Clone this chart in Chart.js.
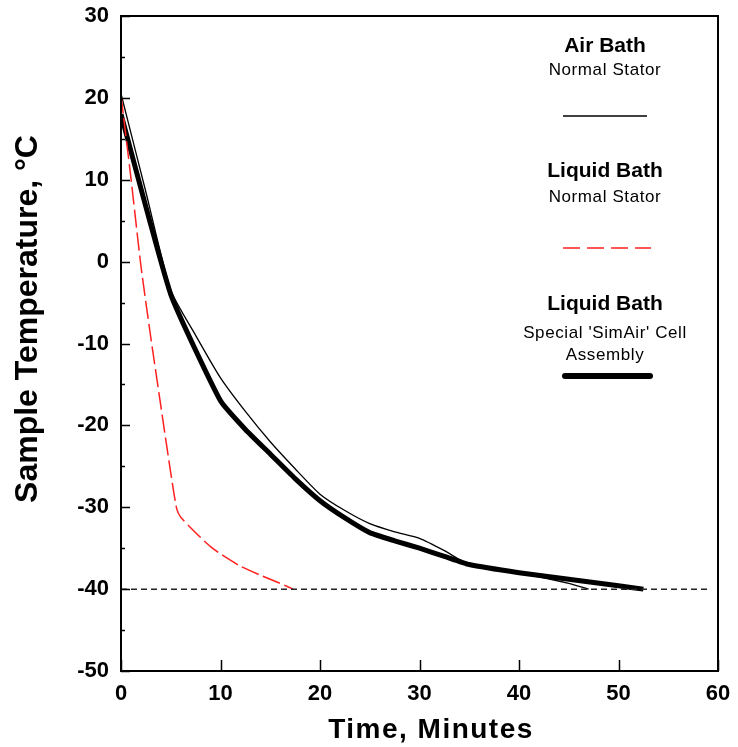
<!DOCTYPE html>
<html lang="en">
<head>
  <meta charset="UTF-8">
  <title>Sample Temperature</title>
  <script src="https://cdn.jsdelivr.net/npm/chart.js@4.4.1/dist/chart.umd.min.js"></script>
  <style>
    html, body { margin: 0; padding: 0; background: #fff; }
    #wrap { width: 738px; height: 747px; }
  </style>
</head>
<body>
<div id="wrap"><canvas id="chart" width="738" height="747"></canvas></div>

<script>
// air bath, normal stator (thin black)
const airTime = [0, 2.5, 5, 7.5, 10, 12.5, 15, 17.5, 20, 22.5, 25, 27.5, 30, 32.5, 35, 40, 45, 47];
const airTemp = [20.5, 8.5, -3.5, -9, -14.2, -18.3, -22, -25.3, -28.4, -30.4, -32, -33, -33.8, -35.3, -37, -38, -39.3, -40];

// liquid bath, normal stator (red dashed)
const liquidTime = [0, 1, 2, 3, 4, 5, 5.6, 6, 7, 8, 9, 10, 12, 14, 16, 17.3];
const liquidTemp = [20.3, 10.2, -0.5, -9.3, -17.6, -25.8, -30.2, -31.2, -32.5, -33.7, -34.8, -35.7, -37.2, -38.3, -39.3, -40];

// liquid bath, SimAir cell (thick black)
const simAirTime = [0, 5, 10, 12.5, 15, 17.5, 20, 22.5, 25, 27.5, 30, 32.5, 35, 40, 45, 50, 52.5];
const simAirTemp = [18, -4, -17, -20.5, -23.5, -26.5, -29.2, -31.3, -33.1, -34.1, -35, -36, -37, -38, -38.8, -39.6, -40];

// target line at -40
const targetTime = [0, 59];
const targetTemp = [-40, -40];

const xTicks = [0, 10, 20, 30, 40, 50, 60];
const yTicks = [30, 20, 10, 0, -10, -20, -30, -40, -50];

const pts = (xs, ys) => xs.map((x, i) => ({ x: x, y: ys[i] }));

const FONT = '"Liberation Sans", Arial, sans-serif';

const decorations = {
  id: 'decorations',
  afterDraw(chart) {
    const ctx = chart.ctx;
    const a = chart.chartArea;
    const xs = chart.scales.x, ys = chart.scales.y;
    ctx.save();
    ctx.strokeStyle = '#000';

    // frame
    ctx.lineWidth = 2;
    ctx.strokeRect(a.left, a.top, a.right - a.left, a.bottom - a.top);

    // inward tick marks
    ctx.lineWidth = 1.5;
    ctx.beginPath();
    for (let v = -50; v <= 30; v += 5) {
      const py = Math.round(ys.getPixelForValue(v)) + 0.5;
      const len = v % 10 === 0 ? 9 : 4;
      ctx.moveTo(a.left, py);
      ctx.lineTo(a.left + len, py);
    }
    xTicks.forEach(v => {
      const px = Math.round(xs.getPixelForValue(v)) + 0.5;
      ctx.moveTo(px, a.bottom);
      ctx.lineTo(px, a.bottom - 11);
    });
    ctx.stroke();

    // axis titles
    ctx.fillStyle = '#000';
    ctx.textAlign = 'center';
    ctx.textBaseline = 'alphabetic';
    ctx.font = 'bold 28px ' + FONT;
    ctx.letterSpacing = '1.5px';
    ctx.fillText('Time, Minutes', 431, 738);
    ctx.letterSpacing = '0px';

    ctx.save();
    ctx.translate(37, 319);
    ctx.rotate(-Math.PI / 2);
    ctx.font = 'bold 32px ' + FONT;
    ctx.fillText('Sample Temperature, \u00B0C', 0, 0);
    ctx.restore();

    // legend block
    const cx = 605;
    const title = (t, y) => {
      ctx.letterSpacing = '0px';
      ctx.font = 'bold 21px ' + FONT;
      ctx.fillText(t, cx, y);
    };
    const sub = (t, y) => {
      ctx.letterSpacing = '0.6px';
      ctx.font = '17px ' + FONT;
      ctx.fillText(t, cx, y);
    };

    title('Air Bath', 52);
    sub('Normal Stator', 75);
    ctx.setLineDash([]);
    ctx.lineWidth = 1.5;
    ctx.beginPath(); ctx.moveTo(563, 116); ctx.lineTo(647, 116); ctx.stroke();

    title('Liquid Bath', 177);
    sub('Normal Stator', 202);
    ctx.strokeStyle = '#ff2020';
    ctx.setLineDash([17, 7]);
    ctx.beginPath(); ctx.moveTo(563, 248); ctx.lineTo(651, 248); ctx.stroke();

    ctx.strokeStyle = '#000';
    ctx.setLineDash([]);
    title('Liquid Bath', 310);
    sub("Special 'SimAir' Cell", 338);
    sub('Assembly', 360);
    ctx.lineWidth = 6;
    ctx.lineCap = 'round';
    ctx.beginPath(); ctx.moveTo(565, 376); ctx.lineTo(650, 376); ctx.stroke();
    ctx.restore();
  }
};

const ctx = document.getElementById('chart').getContext('2d');
new Chart(ctx, {
  type: 'line',
  data: {
    datasets: [
      {
        label: 'Target',
        data: pts(targetTime, targetTemp),
        borderColor: '#222',
        borderWidth: 1.5,
        borderDash: [6, 4],
        pointRadius: 0
      },
      {
        label: 'Liquid Bath, Normal Stator',
        data: pts(liquidTime, liquidTemp),
        borderColor: '#ff2020',
        borderWidth: 1.5,
        borderDash: [18, 5],
        pointRadius: 0,
        tension: 0.2
      },
      {
        label: 'Air Bath, Normal Stator',
        data: pts(airTime, airTemp),
        borderColor: '#000',
        borderWidth: 1.3,
        pointRadius: 0,
        tension: 0.2
      },
      {
        label: "Liquid Bath, Special 'SimAir' Cell Assembly",
        data: pts(simAirTime, simAirTemp),
        borderColor: '#000',
        borderWidth: 5,
        pointRadius: 0,
        tension: 0.15
      }
    ]
  },
  options: {
    responsive: false,
    animation: false,
    layout: { padding: { top: 16, right: 20, left: 0, bottom: 0 } },
    plugins: { legend: { display: false }, tooltip: { enabled: false } },
    scales: {
      x: {
        type: 'linear',
        min: 0, max: 60,
        afterFit: s => { s.height = 76; s.paddingLeft = 0; s.paddingRight = 0; },
        afterBuildTicks: s => { s.ticks = xTicks.map(v => ({ value: v })); },
        grid: { display: false, drawTicks: false },
        border: { display: false },
        ticks: { color: '#000', padding: 10, maxRotation: 0, font: { family: FONT, size: 22, weight: 'bold' } }
      },
      y: {
        type: 'linear',
        min: -50, max: 30,
        afterFit: s => { s.width = 121; s.paddingTop = 0; s.paddingBottom = 0; },
        afterBuildTicks: s => { s.ticks = yTicks.map(v => ({ value: v })); },
        grid: { display: false, drawTicks: false },
        border: { display: false },
        ticks: { color: '#000', padding: 12, font: { family: FONT, size: 22, weight: 'bold' } }
      }
    }
  },
  plugins: [decorations]
});
</script>
</body>
</html>
